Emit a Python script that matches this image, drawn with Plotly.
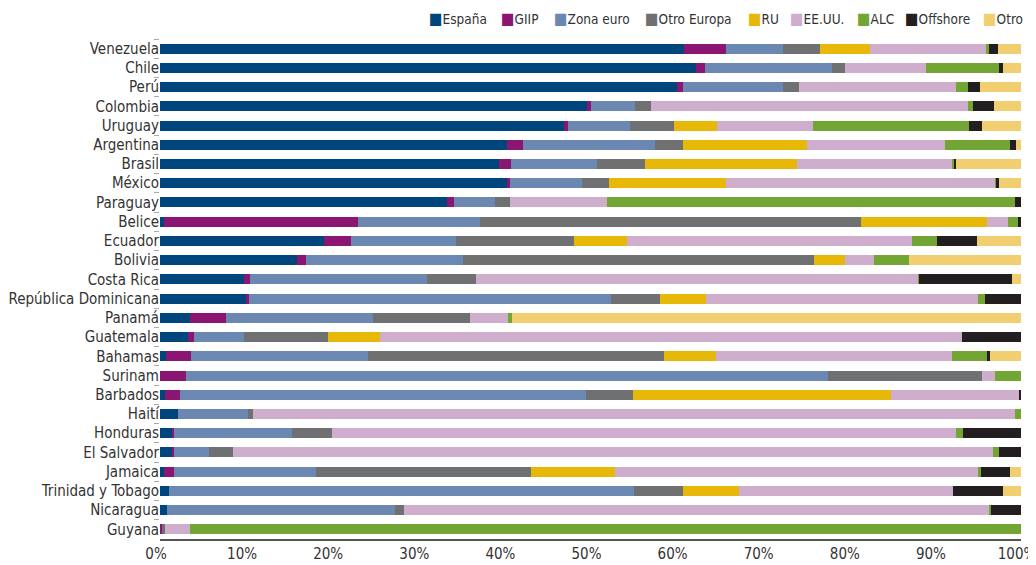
import plotly.graph_objects as go

countries = ["Venezuela", "Chile", "Perú", "Colombia", "Uruguay", "Argentina", "Brasil",
             "México", "Paraguay", "Belice", "Ecuador", "Bolivia", "Costa Rica",
             "República Dominicana", "Panamá", "Guatemala", "Bahamas", "Surinam",
             "Barbados", "Haití", "Honduras", "El Salvador", "Jamaica",
             "Trinidad y Tobago", "Nicaragua", "Guyana"]

espana      = [60.9, 62.2, 60.1, 49.6, 46.9, 40.3, 39.4, 40.3, 33.3, 0.5, 19.0, 15.9, 9.8,
               10.0, 3.5, 3.2, 0.7, 0.0, 0.6, 2.1, 1.4, 1.5, 0.5, 1.0, 0.8, 0.0]
giip        = [4.8, 1.1, 0.6, 0.4, 0.5, 1.9, 1.4, 0.3, 0.8, 22.5, 3.2, 1.1, 0.7,
               0.3, 4.2, 0.8, 2.9, 3.0, 1.7, 0.0, 0.2, 0.1, 1.1, 0.0, 0.0, 0.2]
zona_euro   = [6.6, 14.8, 11.6, 5.2, 7.2, 15.3, 10.0, 8.4, 4.8, 14.2, 12.2, 18.2, 20.5,
               42.1, 17.0, 5.8, 20.6, 74.6, 47.2, 8.1, 13.7, 4.1, 16.5, 54.1, 26.5, 0.0]
otro_europa = [4.3, 1.4, 1.9, 1.8, 5.1, 3.2, 5.5, 3.2, 1.8, 44.2, 13.7, 40.8, 5.7,
               5.7, 11.3, 9.7, 34.3, 17.9, 5.4, 0.6, 4.7, 2.8, 25.0, 5.7, 1.0, 0.4]
ru          = [5.9, 0.0, 0.0, 0.0, 5.0, 14.5, 17.7, 13.5, 0.0, 14.6, 6.1, 3.5, 0.0,
               5.3, 0.0, 6.1, 6.1, 0.0, 30.0, 0.0, 0.0, 0.0, 9.7, 6.5, 0.0, 0.0]
eeuu        = [13.4, 9.5, 18.2, 36.8, 11.1, 16.0, 18.0, 31.3, 11.2, 2.5, 33.1, 3.4, 51.4,
               31.6, 4.4, 67.6, 27.4, 1.5, 14.9, 88.5, 72.4, 88.3, 42.2, 24.8, 68.0, 2.9]
alc         = [0.4, 8.4, 1.5, 0.6, 18.2, 7.5, 0.2, 0.1, 47.4, 1.1, 2.9, 4.1, 0.1,
               0.8, 0.5, 0.0, 4.0, 3.0, 0.0, 0.7, 0.9, 0.7, 0.4, 0.0, 0.2, 96.5]
offshore    = [1.0, 0.5, 1.3, 2.5, 1.5, 0.7, 0.3, 0.3, 0.7, 0.4, 4.7, 0.0, 10.8,
               4.2, 0.0, 6.8, 0.4, 0.0, 0.2, 0.0, 6.7, 2.5, 3.3, 5.8, 3.5, 0.0]
otro        = [2.7, 2.1, 4.8, 3.1, 4.5, 0.6, 7.5, 2.6, 0.0, 0.0, 5.1, 13.0, 1.0,
               0.0, 59.1, 0.0, 3.6, 0.0, 0.0, 0.0, 0.0, 0.0, 1.3, 2.1, 0.0, 0.0]

series_names = ["España", "GIIP", "Zona euro", "Otro Europa", "RU", "EE.UU.", "ALC", "Offshore", "Otro"]
series_values = [espana, giip, zona_euro, otro_europa, ru, eeuu, alc, offshore, otro]
colors = ["#00457c", "#8a1573", "#6b88b2", "#6f7072", "#e8b808", "#cfadcc", "#72a533", "#231f20", "#f1ce70"]

font_family = "DejaVu Sans Condensed, Roboto, sans-serif"

# figure geometry (page body has an 8px margin)
W, H = 1028, 557
ML, MR, MT, MB = 152, 15, 31, 26
PW = W - ML - MR
PH = H - MT - MB

# legend key left edges (page px)
legend_key_x = [430, 502, 555, 646, 749, 791, 858, 906, 984]

fig = go.Figure()
annotations = []
for i, (name, vals, col) in enumerate(zip(series_names, series_values, colors)):
    fig.add_trace(go.Bar(
        y=countries, x=vals, name=name, orientation="h",
        marker=dict(color=col, line=dict(width=0)),
        showlegend=False,
        hovertemplate="%{y}: %{x:.1f}%<extra>" + name + "</extra>",
    ))
    annotations.append(dict(
        xref="paper", yref="paper",
        x=(legend_key_x[i] - 8 - ML - 2) / PW, xanchor="left",
        y=1 + MT / PH, yanchor="top",
        text=f"<span style='color:{col};font-size:16px'>■</span>{name}",
        showarrow=False, font=dict(size=13.5, color="#333333"),
        borderpad=0,
    ))

fig.update_layout(
    barmode="stack",
    bargap=0.48,
    width=W, height=H,
    margin=dict(l=ML, r=MR, t=MT, b=MB, autoexpand=False),
    plot_bgcolor="white", paper_bgcolor="white",
    font=dict(family=font_family, size=15, color="#333333"),
    showlegend=False,
    annotations=annotations,
    xaxis=dict(range=[0, 100], dtick=10, ticksuffix="%", showgrid=False,
               showline=True, linecolor="#555555", linewidth=2, zeroline=False,
               ticks="", tickfont=dict(size=15), automargin=False,
               ticklabelshift=-4, ticklabeloverflow="allow"),
    yaxis=dict(categoryorder="array", categoryarray=countries, autorange="reversed",
               ticks="outside", tickson="boundaries", ticklen=5, tickcolor="#aaaaaa",
               showline=False, showgrid=False, tickfont=dict(size=15), automargin=False),
)

fig.write_html("out.html")
